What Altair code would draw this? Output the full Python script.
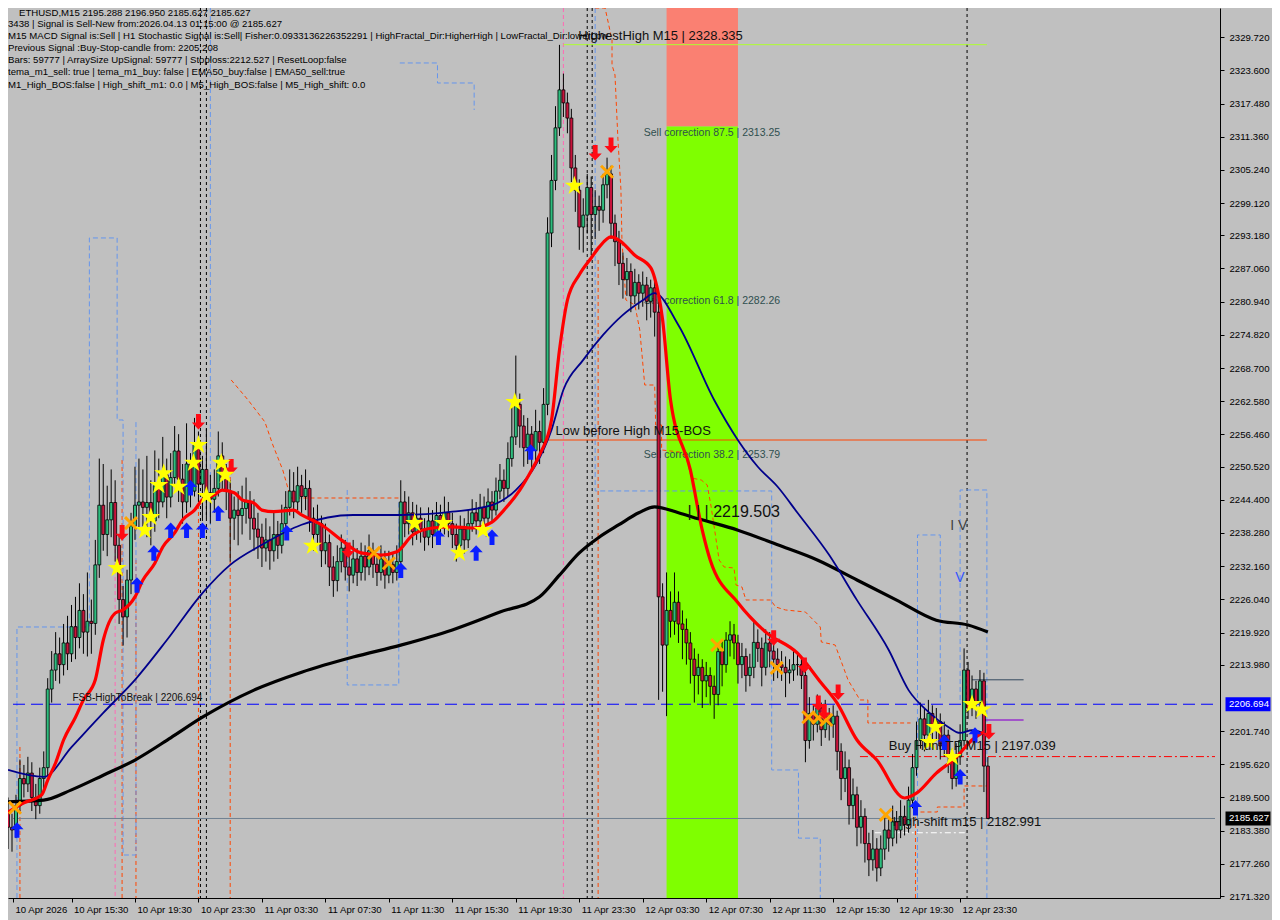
import altair as alt
import pandas as pd

FONT = "Liberation Sans, Arial, sans-serif"

# ---------------- candles (M15 bars, index 0..247) ----------------
first_open = 2187.0
closes = [
    2184.0, 2183.5, 2188.0, 2193.0, 2192.0, 2194.0, 2189.5, 2188.0, 2193.0, 2195.0,
    2209.5, 2213.0, 2216.0, 2214.0, 2218.0, 2216.0, 2221.0, 2219.0, 2224.0, 2220.0,
    2222.0, 2221.6, 2232.4, 2243.4, 2238.0, 2240.7, 2243.9, 2236.0, 2226.0, 2222.8,
    2229.6, 2239.6, 2243.4, 2244.0, 2243.0, 2243.9, 2240.5, 2247.0, 2244.0, 2249.0,
    2244.9, 2248.5, 2253.4, 2248.2, 2244.0, 2251.0, 2246.0, 2254.5, 2247.3, 2250.0,
    2245.7, 2244.5, 2246.5, 2252.5, 2248.5, 2246.0, 2241.0, 2242.5, 2241.5, 2242.8,
    2244.0, 2241.0, 2239.0, 2237.5, 2235.5, 2237.0, 2235.0, 2238.0, 2236.0, 2240.0,
    2243.0, 2246.0, 2244.0, 2247.0, 2245.0, 2246.5, 2241.0, 2238.0, 2240.0, 2235.0,
    2236.5, 2232.0, 2229.5, 2233.0, 2235.5, 2232.0, 2230.5, 2233.5, 2231.0, 2234.0,
    2232.0, 2235.0, 2232.5, 2231.0, 2233.5, 2230.5, 2232.5, 2231.0, 2233.0, 2244.0,
    2240.0, 2242.0, 2238.5, 2241.0, 2239.0, 2237.5, 2240.5, 2238.0, 2241.5, 2239.5,
    2242.0, 2240.0, 2238.0, 2236.0, 2239.0, 2237.0, 2240.0, 2242.0, 2240.5, 2243.0,
    2241.0, 2244.0, 2242.5, 2246.0, 2248.0, 2246.5, 2252.0, 2256.0, 2262.0, 2258.0,
    2254.0, 2256.5, 2253.5, 2257.0, 2255.0, 2262.0, 2293.6, 2303.3, 2313.0, 2320.0,
    2317.6, 2314.8, 2305.6, 2301.5, 2294.7, 2296.9, 2302.0, 2297.0, 2298.5, 2297.8,
    2302.5, 2304.5, 2295.4, 2292.0, 2288.0, 2285.0, 2286.5, 2282.0, 2284.5, 2282.5,
    2284.0, 2281.0, 2283.5, 2279.0, 2226.5, 2217.6, 2224.0, 2222.0, 2225.5, 2221.5,
    2220.5, 2218.0, 2215.0, 2212.0, 2213.5, 2211.0, 2212.0, 2210.0, 2208.5, 2216.4,
    2214.0, 2218.5, 2219.5, 2218.0, 2214.0, 2215.5, 2212.0, 2213.5, 2218.1, 2217.0,
    2213.5, 2218.0, 2216.5, 2215.0, 2214.0, 2213.5, 2212.5, 2213.0, 2214.0, 2214.0,
    2212.0, 2200.0, 2205.0, 2203.0, 2206.0, 2202.0, 2204.5, 2203.0, 2204.5, 2198.0,
    2193.0, 2195.0, 2188.0, 2190.0, 2184.0, 2186.0, 2181.0, 2178.0, 2180.0, 2176.5,
    2180.0, 2183.5, 2182.0, 2185.0, 2183.5, 2186.0, 2184.5, 2189.0, 2195.0, 2200.0,
    2204.0, 2201.0, 2205.0, 2202.5, 2203.5, 2199.0, 2201.0, 2197.0, 2193.0, 2197.0,
    2200.0, 2213.0, 2206.0, 2209.5, 2207.0, 2211.0, 2195.288, 2185.627,
]
highs = [
    2189.5, 2186.5, 2190.0, 2196.5, 2195.5, 2197.0, 2196.0, 2192.0, 2195.0, 2198.0,
    2211.5, 2216.5, 2220.0, 2219.0, 2221.5, 2223.0, 2225.0, 2226.5, 2229.0, 2227.0,
    2231.0, 2226.0, 2237.0, 2252.0, 2251.0, 2247.0, 2250.0, 2248.0, 2238.0, 2228.5,
    2231.5, 2242.0, 2250.5, 2252.0, 2250.0, 2252.5, 2248.0, 2253.5, 2252.0, 2256.0,
    2252.0, 2253.0, 2258.0, 2256.5, 2251.0, 2258.5, 2253.0, 2259.5, 2257.0, 2252.5,
    2257.5, 2249.0, 2250.0, 2257.0, 2255.0, 2251.0, 2248.0, 2245.0, 2246.0, 2247.0,
    2248.5, 2246.0, 2244.5, 2242.0, 2240.0, 2241.0, 2239.5, 2242.0, 2240.5, 2243.5,
    2246.0, 2250.0, 2249.5, 2250.5, 2249.0, 2250.0, 2248.0, 2243.0, 2243.5, 2241.5,
    2240.0, 2238.0, 2234.0, 2236.0, 2238.0, 2237.0, 2234.5, 2237.0, 2235.5, 2236.5,
    2236.0, 2238.0, 2236.5, 2234.5, 2236.0, 2235.0, 2235.0, 2234.5, 2236.0, 2248.0,
    2246.0, 2245.0, 2244.0, 2243.5, 2243.0, 2241.0, 2243.0, 2242.5, 2244.0, 2243.5,
    2245.0, 2244.0, 2242.0, 2240.0, 2241.5, 2241.0, 2242.5, 2244.5, 2244.0, 2245.5,
    2245.0, 2246.5, 2246.0, 2248.5, 2251.0, 2250.0, 2255.0, 2262.0, 2271.0, 2264.0,
    2260.0, 2259.5, 2258.0, 2261.0, 2259.0, 2265.0, 2296.5, 2308.0, 2317.0, 2328.3,
    2323.0, 2319.5, 2316.5, 2308.0, 2303.5, 2300.0, 2304.5, 2304.0, 2301.5, 2300.5,
    2304.5, 2307.5, 2306.0, 2297.0, 2294.0, 2290.0, 2289.0, 2288.0, 2287.0, 2286.0,
    2286.5, 2285.5, 2285.0, 2285.0, 2281.0, 2229.0, 2231.0, 2227.5, 2231.0, 2227.5,
    2224.0, 2222.5, 2220.0, 2217.0, 2216.0, 2215.0, 2214.5, 2213.5, 2212.0, 2218.0,
    2218.5, 2220.0, 2222.0, 2221.5, 2219.5, 2218.0, 2217.0, 2216.0, 2222.0, 2220.5,
    2219.0, 2220.5, 2220.0, 2218.0, 2217.0, 2216.5, 2215.5, 2215.0, 2217.0, 2216.0,
    2215.5, 2213.0, 2208.0, 2206.5, 2208.5, 2207.0, 2207.5, 2206.0, 2206.5, 2205.5,
    2199.5, 2198.0, 2196.5, 2193.0, 2191.5, 2189.0, 2187.5, 2183.0, 2183.5, 2182.0,
    2182.5, 2186.0, 2185.5, 2188.0, 2187.0, 2189.0, 2188.0, 2191.5, 2197.5, 2203.5,
    2207.0, 2206.0, 2207.5, 2206.5, 2206.0, 2205.0, 2203.5, 2202.0, 2198.5, 2199.5,
    2203.0, 2217.0, 2214.5, 2212.0, 2211.0, 2213.0, 2212.5, 2196.95,
]
lows = [
    2180.0, 2179.5, 2182.0, 2187.0, 2189.5, 2190.5, 2187.0, 2185.5, 2186.5, 2191.0,
    2193.5, 2207.0, 2211.0, 2210.5, 2212.0, 2213.0, 2214.5, 2215.0, 2217.0, 2216.0,
    2215.5, 2216.0, 2219.5, 2230.0, 2235.0, 2234.0, 2237.5, 2233.0, 2221.5, 2217.5,
    2219.0, 2227.0, 2237.0, 2239.0, 2239.5, 2237.5, 2236.0, 2238.5, 2241.0, 2243.0,
    2241.0, 2243.0, 2247.0, 2244.0, 2240.0, 2242.0, 2243.0, 2245.0, 2244.0, 2240.5,
    2241.0, 2240.0, 2242.0, 2245.0, 2246.0, 2242.5, 2233.0, 2237.0, 2236.0, 2238.0,
    2240.0, 2237.0, 2235.0, 2233.5, 2232.0, 2233.0, 2231.5, 2233.0, 2233.5, 2234.5,
    2238.0, 2241.5, 2241.0, 2242.5, 2242.0, 2242.5, 2238.5, 2235.0, 2236.0, 2232.0,
    2232.5, 2228.5, 2226.5, 2227.5, 2231.0, 2229.5, 2227.5, 2229.0, 2228.5, 2229.5,
    2229.5, 2230.5, 2230.0, 2228.5, 2229.5, 2228.0, 2229.0, 2229.0, 2229.5, 2231.5,
    2237.5, 2238.0, 2236.0, 2237.0, 2236.5, 2235.0, 2236.0, 2235.5, 2236.5, 2237.0,
    2238.0, 2237.5, 2235.5, 2233.0, 2234.0, 2234.5, 2235.5, 2238.5, 2238.0, 2239.0,
    2239.0, 2240.0, 2240.5, 2241.5, 2244.5, 2244.0, 2245.0, 2250.5, 2254.5, 2254.0,
    2250.5, 2251.0, 2250.0, 2251.5, 2251.0, 2253.0, 2260.0, 2291.0, 2301.5, 2311.5,
    2315.0, 2312.0, 2303.0, 2297.5, 2290.5, 2290.0, 2293.5, 2289.5, 2292.5, 2294.0,
    2295.5, 2300.0, 2292.5, 2287.5, 2284.0, 2281.5, 2282.0, 2279.0, 2280.5, 2279.5,
    2280.0, 2277.5, 2278.0, 2274.5, 2207.5, 2209.0, 2204.5, 2219.0, 2219.5, 2218.0,
    2215.0, 2214.0, 2210.5, 2207.0, 2208.5, 2206.0, 2208.0, 2206.5, 2204.0, 2206.5,
    2210.0, 2212.5, 2215.5, 2215.0, 2210.5, 2211.5, 2209.0, 2210.0, 2211.5, 2214.5,
    2210.0, 2212.0, 2213.5, 2211.0, 2211.5, 2211.0, 2208.0, 2210.5, 2211.0, 2212.0,
    2209.5, 2196.0, 2198.5, 2200.0, 2201.5, 2199.0, 2200.5, 2200.0, 2200.5, 2194.5,
    2189.0, 2190.5, 2184.5, 2185.5, 2180.5, 2181.0, 2177.5, 2175.0, 2176.0, 2174.0,
    2175.0, 2178.0, 2179.5, 2180.5, 2181.0, 2182.0, 2182.5, 2183.0, 2187.5, 2193.5,
    2198.5, 2198.0, 2199.0, 2199.5, 2200.0, 2196.5, 2197.0, 2194.0, 2191.0, 2191.5,
    2195.5, 2199.0, 2204.0, 2204.5, 2204.0, 2205.0, 2190.5, 2185.627,
]

# ---------------- axes ----------------
time_ticks = [1.25, 16, 32, 48, 64, 80, 96, 112, 128, 144, 160, 176, 192, 208, 224, 240]
time_labels = ["10 Apr 2026", "10 Apr 15:30", "10 Apr 19:30", "10 Apr 23:30", "11 Apr 03:30",
               "11 Apr 07:30", "11 Apr 11:30", "11 Apr 15:30", "11 Apr 19:30", "11 Apr 23:30",
               "12 Apr 03:30", "12 Apr 07:30", "12 Apr 11:30", "12 Apr 15:30", "12 Apr 19:30",
               "12 Apr 23:30"]
price_ticks = [2329.72, 2323.60, 2317.48, 2311.36, 2305.24, 2299.12, 2293.18, 2287.06,
               2280.94, 2274.82, 2268.70, 2262.58, 2256.46, 2250.52, 2244.40, 2238.28, 2232.16,
               2226.04, 2219.92, 2213.98, 2201.74, 2195.62, 2189.50, 2183.38, 2177.26,
               2171.32]
x_domain = [1.25, 304.25]
y_domain = [2170.96, 2335.10]

# ---------------- moving averages (bar index, price) ----------------
red_ma = [(0, 2186.8), (4, 2188.5), (8.5, 2190.0), (10, 2192.7), (12, 2195.9), (14, 2200.1),
          (17, 2204.3), (19, 2207.5), (22, 2211.2), (24, 2218.5), (27, 2223.5), (29, 2224.1),
          (32, 2226.5), (34, 2229.6), (37, 2232.7), (39, 2235.7), (42, 2238.3), (44, 2240.7),
          (47, 2242.5), (49, 2244.4), (52, 2245.3), (54, 2246.2), (57, 2245.7), (59, 2244.4),
          (62, 2243.8), (64, 2242.5), (67, 2242.2), (72, 2242.5), (74, 2241.6), (79, 2239.8),
          (84, 2237.0), (89, 2234.6), (94, 2234.2), (98, 2234.8), (102, 2237.9), (107, 2239.2),
          (112, 2239.4), (117, 2239.2), (122, 2240.3), (125, 2242.5), (129, 2246.2),
          (132, 2249.9), (134, 2252.7), (137, 2259.1), (139, 2272.0), (141, 2281.2),
          (144, 2285.9), (147, 2289.0), (149, 2291.0), (152, 2292.9), (154, 2292.3),
          (158, 2289.5), (162, 2287.2), (163, 2285.3), (165, 2277.6), (167, 2262.8),
          (172, 2249.9), (175, 2238.8), (177, 2233.3), (184, 2225.4), (191, 2220.0),
          (199, 2216.1), (205, 2210.6), (209, 2206.9), (214, 2200.1), (219, 2196.4),
          (226, 2189.4), (229, 2190.3), (234, 2194.0), (239, 2196.9), (243, 2200.1),
          (246, 2201.6)]
navy_ma = [(0, 2194.6), (9, 2193.3), (16, 2198.8), (24, 2205.1), (32, 2211.2), (40, 2218.5),
           (49, 2227.2), (56, 2232.4), (64, 2236.1), (74, 2239.8), (87, 2241.6), (99, 2241.6),
           (112, 2242.2), (122, 2243.4), (128, 2246.2), (133, 2250.8), (137, 2257.3),
           (140, 2264.7), (145, 2270.2), (150, 2274.8), (155, 2278.5), (160, 2281.2),
           (163, 2282.5), (169, 2276.6), (178, 2262.8), (184, 2255.4), (189, 2250.5),
           (194, 2246.8), (199, 2242.0), (207, 2234.2), (214, 2225.9), (222, 2216.7),
           (227, 2209.3), (232, 2205.3), (237, 2202.5), (240, 2201.4), (243, 2201.9),
           (247, 2201.0)]
black_ma = [(0, 2188.7), (9, 2189.0), (16, 2190.9), (24, 2193.6), (32, 2196.4), (41, 2200.5),
            (49, 2204.3), (62, 2209.3), (74, 2212.6), (87, 2215.4), (99, 2217.6), (112, 2220.4),
            (124, 2223.7), (134, 2226.5), (139, 2230.5), (144, 2234.6), (149, 2237.5),
            (154, 2239.8), (159, 2242.0), (163, 2243.1), (169, 2242.0), (174, 2240.9),
            (184, 2238.8), (194, 2236.1), (204, 2233.3), (214, 2229.6), (224, 2225.9),
            (234, 2222.2), (242, 2221.3), (247, 2220.0)]

# ---------------- channel / band step lines ----------------
blue_steps = {
    "b1": [(2.25, 2170.96), (2.25, 2220.94), (20.5, 2220.94), (20.5, 2292.69), (27.5, 2292.69),
           (27.5, 2259.12), (29, 2259.12), (29, 2178.89), (32.25, 2178.89), (32.25, 2259.12)],
    "b2": [(51, 2335.1), (51, 2207.48)],
    "b3": [(98.75, 2324.96), (108.25, 2324.96), (108.25, 2321.27), (117.5, 2321.27),
           (117.5, 2316.29)],
    "b4": [(148, 2335.1), (148, 2246.03), (192.5, 2246.03), (192.5, 2194.57), (199.25, 2194.57),
           (199.25, 2182.0), (204.75, 2182.0), (204.75, 2170.96)],
    "b5": [(229.25, 2170.96), (229.25, 2237.91), (235, 2237.91), (235, 2207.48)],
    "b6": [(240, 2207.48), (240, 2246.21), (246.75, 2246.21), (246.75, 2170.96)],
    "b8": [(85.5, 2246.21), (85.5, 2210.25), (98.5, 2210.25), (98.5, 2244.4)],
}
orange_steps = {
    "o1": [(56.25, 2266.5), (60.5, 2262.81), (64.75, 2258.75), (66.75, 2254.51), (69.25, 2249.9),
           (71.25, 2244.73), (85.5, 2244.73), (98.75, 2244.73)],
    "o2": [(148, 2335.1), (150.5, 2335.1), (152.25, 2329.2), (152.25, 2324.6), (153, 2322.75),
           (153.75, 2310.76), (154.5, 2301.54), (154.75, 2292.32), (155.75, 2281.25),
           (158, 2280.33), (159.25, 2275.72), (160.5, 2265.57), (163, 2265.57), (163.25, 2258.2),
           (164.75, 2258.2), (164.75, 2253.59), (169.25, 2253.22), (171, 2252.11),
           (172.25, 2248.42), (174.75, 2248.05), (176.25, 2247.13), (177.25, 2243.07),
           (179.25, 2233.3), (180.5, 2232.01), (183, 2231.82), (183.5, 2228.69), (185, 2228.32),
           (186, 2225.92), (192.25, 2225.92), (193.5, 2224.63), (196, 2224.08), (201, 2223.71),
           (203, 2222.23), (204.75, 2220.94), (205, 2218.18), (208.5, 2217.62),
           (211.75, 2211.17), (214.75, 2207.48), (216.75, 2207.48), (216.75, 2203.24),
           (227.5, 2203.24)],
    "o3": [(228.75, 2170.96), (228.75, 2186.82), (234.25, 2186.82), (234.25, 2187.74),
           (241, 2187.74), (241, 2191.62), (246.75, 2191.62)],
}
orange_drops = [(3, 2198.81), (28.75, 2251.74), (32.25, 2233.3), (48, 2249.9), (56, 2249.9),
                (148.75, 2288.63)]
pink_drops = [(27, 2244.37), (140, 2335.1)]
black_vlines = [48.5, 50, 146, 147.25, 241.75]

# ---------------- horizontal levels (from bar, to bar, price) ----------------
lvl_fsb = [(1.25, 304.25, 2206.694)]
lvl_tp = [(214.75, 304.25, 2197.039)]
lvl_bid = [(1.25, 304.25, 2185.627)]
lvl_bos = [(134.25, 246.75, 2255.43)]
lvl_hh = [(140, 246.75, 2328.335)]
lvl_shift = [(218.5, 241.75, 2182.991)]
lvl_slate = [(243, 256, 2211.2)]
lvl_purple = [(246, 256, 2203.8)]

# correction zone (from bar, to bar, low price, high price)
zone_sell = [(166, 184, 2313.25, 2340.0)]
zone_corr = [(166, 184, 2160.0, 2313.25)]

# ---------------- signal markers (bar index, price) ----------------
stars = [(27.5, 2231.8), (34.5, 2238.8), (36, 2241.2), (38, 2247.1), (39.25, 2249.3),
         (43, 2246.8), (46.75, 2251.2), (48, 2254.5), (50, 2245.1), (53.75, 2251.2),
         (54.75, 2249.0), (76.75, 2235.9), (102.5, 2240.1), (109.75, 2240.1), (113.75, 2234.6),
         (119.75, 2238.8), (127.75, 2262.4), (142.75, 2302.3), (233.75, 2202.5),
         (232.25, 2199.7), (238, 2196.97), (243, 2206.7), (245.5, 2205.7)]
up_arrows = [(2.25, 2183.5), (32.5, 2228.7), (36.75, 2234.6), (41, 2238.8), (45, 2238.8),
             (46, 2246.6), (49, 2238.8), (53, 2241.9), (70.25, 2238.3), (99, 2231.4),
             (108.5, 2237.5), (118, 2234.6), (122, 2237.5), (131.75, 2253.2), (228.75, 2187.6),
             (236, 2199.7), (240, 2193.3), (243.75, 2201.0)]
down_arrows = [(28.75, 2238.3), (48, 2258.8), (56.25, 2250.5), (85.75, 2235.1), (148, 2308.4),
               (152, 2309.8), (193, 2218.9), (200.75, 2213.9), (204.25, 2206.9), (205.75, 2205.3),
               (209.25, 2208.9), (247.25, 2201.6)]
crosses = [(1.75, 2187.6), (31, 2240.1), (92.25, 2234.6), (96, 2232.7), (151, 2304.9),
           (178.75, 2217.6), (193.75, 2213.4), (201.75, 2204.3), (204.25, 2204.2),
           (206.25, 2203.8), (221.25, 2186.3)]

# ---------------- texts ----------------
info_title = "ETHUSD,M15  2195.288 2196.950 2185.627 2185.627"
info_lines = [
    "3438 | Signal is Sell-New from:2026.04.13 01:15:00 @ 2185.627",
    "M15 MACD Signal is:Sell | H1 Stochastic Signal is:Sell| Fisher:0.0933136226352291 | HighFractal_Dir:HigherHigh | LowFractal_Dir:lowerLow",
    "Previous Signal :Buy-Stop-candle from: 2205.208",
    "Bars: 59777 | ArraySize UpSignal: 59777 | Stoploss:2212.527 | ResetLoop:false",
    "tema_m1_sell: true | tema_m1_buy: false | EMA50_buy:false | EMA50_sell:true",
    "M1_High_BOS:false | High_shift_m1: 0.0 | M5_High_BOS:false | M5_High_shift: 0.0",
]
corr_texts = [(160.25, 2312.05, "Sell correction 87.5 | 2313.25"),
              (160.25, 2281.07, "Sell correction 61.8 | 2282.26"),
              (160.25, 2252.66, "Sell correction 38.2 | 2253.79")]
big_texts = [(143.75, 2329.94, "HighestHigh   M15 | 2328.335"),
             (138.0, 2257.1, "Low before High   M15-BOS"),
             (222.0, 2198.99, "Buy Hunt TP M15 | 2197.039"),
             (223.0, 2184.98, "High-shift m15 | 2182.991")]
mid_texts = [(171.25, 2242.15, "| | | 2219.503")]
small_texts = [(16.25, 2207.85, "FSB-HighToBreak | 2206.694")]
fractal_texts = [(237.5, 2239.57, "I V", "#404040"), (238.75, 2229.98, "V", "#3355FF")]
price_boxes = [(2206.694, "#0000FF", "2206.694"), (2185.627, "#000000", "2185.627")]

# ======================================================================
opens = [first_open] + closes[:-1]
bars = pd.DataFrame({"i": list(range(len(closes))), "o": opens, "h": highs, "l": lows, "c": closes})
bars["lo"] = bars[["o", "c"]].min(axis=1)
bars["hi"] = bars[["o", "c"]].max(axis=1)
bars["dir"] = ["up" if c >= o else "down" for o, c in zip(opens, closes)]

js_labels = "[" + ",".join("'" + s + "'" for s in time_labels) + "]"
xs = alt.Scale(domain=x_domain, nice=False, zero=False)
ys = alt.Scale(domain=y_domain, nice=False, zero=False)
xax = alt.Axis(values=time_ticks, labelExpr=js_labels + "[round(datum.value/16)]", title=None,
               grid=False, labelAlign="left", labelFont=FONT, labelFontSize=9.6, labelColor="#000000",
               tickColor="#000000", domainColor="#000000", tickSize=4, labelPadding=2,
               labelFlush=False, labelOverlap=False, labelBound=False, labelBaseline="top",
               labelOffset=2)
yax = alt.Axis(orient="right", values=price_ticks, format=".3f", title=None, grid=False,
               labelFont=FONT, labelFontSize=9.6, labelColor="#000000", tickColor="#000000",
               domainColor="#000000", tickSize=4, labelPadding=5, labelOverlap=False,
               labelFlush=False, labelBound=False)


def X(f):
    return alt.X(f + ":Q", scale=xs, axis=xax)


def Y(f):
    return alt.Y(f + ":Q", scale=ys, axis=yax)


def pts_df(pts):
    return pd.DataFrame([{"i": a, "p": b} for a, b in pts])


def paths_df(paths):
    return pd.DataFrame([{"path": n, "k": k, "i": a, "p": b}
                         for n, pts in paths.items() for k, (a, b) in enumerate(pts)])


def lvl_df(rows):
    return pd.DataFrame([{"i0": a, "i1": b, "p": c} for a, b, c in rows])


layers = []

# zones
for rows, col in [(zone_sell, "#FA8072"), (zone_corr, "#7FFF00")]:
    df = pd.DataFrame([{"i0": a, "i1": b, "p0": c, "p1": d} for a, b, c, d in rows])
    layers.append(alt.Chart(df).mark_rect(color=col, clip=True).encode(
        x=X("i0"), x2="i1", y=Y("p0"), y2="p1"))

# correction texts (behind candles)
layers.append(alt.Chart(pd.DataFrame(corr_texts, columns=["i", "p", "t"])).mark_text(
    align="left", baseline="middle", font=FONT, fontSize=10.5, color="#2F4F4F").encode(
    x=X("i"), y=Y("p"), text="t:N"))

# vertical lines
layers.append(alt.Chart(pd.DataFrame({"i": black_vlines})).mark_rule(
    color="#000000", strokeDash=[3, 3], strokeWidth=1, clip=True).encode(x=X("i")))
pdf = pd.DataFrame([{"i": a, "p": b, "b": y_domain[0]} for a, b in pink_drops])
layers.append(alt.Chart(pdf).mark_rule(color="#FF69B4", strokeDash=[4, 3], strokeWidth=1,
                                       clip=True).encode(x=X("i"), y=Y("p"), y2="b"))
odf = pd.DataFrame([{"i": a, "p": b, "b": y_domain[0]} for a, b in orange_drops])
layers.append(alt.Chart(odf).mark_rule(color="#FF4500", strokeDash=[4, 3], strokeWidth=1,
                                       clip=True).encode(x=X("i"), y=Y("p"), y2="b"))

# step lines
layers.append(alt.Chart(paths_df(blue_steps)).mark_line(
    color="#6495ED", strokeDash=[5, 3], strokeWidth=1, clip=True).encode(
    x=X("i"), y=Y("p"), detail="path:N", order="k:Q"))
layers.append(alt.Chart(paths_df(orange_steps)).mark_line(
    color="#FF4500", strokeDash=[4, 3], strokeWidth=1, clip=True).encode(
    x=X("i"), y=Y("p"), detail="path:N", order="k:Q"))

# horizontal levels
for rows, col, dash, sw in [(lvl_bid, "#708090", None, 1), (lvl_fsb, "#0000FF", [12, 6], 1),
                            (lvl_tp, "#FF0000", [8, 3, 2, 3], 1), (lvl_bos, "#FF4500", None, 1.2),
                            (lvl_hh, "#ADFF2F", None, 1), (lvl_shift, "#FFFFFF", [6, 3, 2, 3], 1.2),
                            (lvl_slate, "#34495E", None, 1), (lvl_purple, "#9932CC", None, 1.5)]:
    kw = dict(color=col, strokeWidth=sw, clip=True)
    if dash:
        kw["strokeDash"] = dash
    layers.append(alt.Chart(lvl_df(rows)).mark_rule(**kw).encode(x=X("i0"), x2="i1", y=Y("p")))

# candles
layers.append(alt.Chart(bars).mark_rule(color="#000000", strokeWidth=1, clip=True).encode(
    x=X("i"), y=Y("l"), y2="h"))
layers.append(alt.Chart(bars).mark_bar(size=3, stroke="#000000", strokeWidth=0.8, clip=True).encode(
    x=X("i"), y=Y("lo"), y2="hi",
    fill=alt.Fill("dir:N", scale=alt.Scale(domain=["up", "down"], range=["#2EBD7E", "#C8143C"]),
                  legend=None)))

# moving averages
for pts, col, sw in [(black_ma, "#000000", 3.2), (navy_ma, "#00008B", 1.8), (red_ma, "#FF0000", 3.2)]:
    layers.append(alt.Chart(pts_df(pts)).mark_line(color=col, strokeWidth=sw, clip=True,
                                                   interpolate="monotone").encode(
        x=X("i"), y=Y("p")))

# markers
STAR = "M0,-1L0.2245,-0.309L0.951,-0.309L0.363,0.118L0.588,0.809L0,0.382L-0.588,0.809L-0.363,0.118L-0.951,-0.309L-0.2245,-0.309Z"
UP = "M0,-1L0.85,-0.1L0.32,-0.1L0.32,1L-0.32,1L-0.32,-0.1L-0.85,-0.1Z"
DOWN = "M0,1L0.85,0.1L0.32,0.1L0.32,-1L-0.32,-1L-0.32,0.1L-0.85,0.1Z"
XMARK = "M-1,-0.7L-0.7,-1L0,-0.3L0.7,-1L1,-0.7L0.3,0L1,0.7L0.7,1L0,0.3L-0.7,1L-1,0.7L-0.3,0Z"
for pts, shape, col, size in [(crosses, XMARK, "#FFA500", 200), (up_arrows, UP, "#0A1EFF", 240),
                              (down_arrows, DOWN, "#FF0A14", 240), (stars, STAR, "#FFFF00", 400)]:
    layers.append(alt.Chart(pts_df(pts)).mark_point(shape=shape, filled=True, size=size, color=col,
                                                    opacity=1, strokeWidth=0, clip=True).encode(
        x=X("i"), y=Y("p")))

# annotation texts
layers.append(alt.Chart(pd.DataFrame(big_texts, columns=["i", "p", "t"])).mark_text(
    align="left", baseline="middle", font=FONT, fontSize=13, color="#111111").encode(
    x=X("i"), y=Y("p"), text="t:N"))
layers.append(alt.Chart(pd.DataFrame(mid_texts, columns=["i", "p", "t"])).mark_text(
    align="left", baseline="middle", font=FONT, fontSize=16, color="#111111").encode(
    x=X("i"), y=Y("p"), text="t:N"))
layers.append(alt.Chart(pd.DataFrame(small_texts, columns=["i", "p", "t"])).mark_text(
    align="left", baseline="middle", font=FONT, fontSize=10, color="#111111").encode(
    x=X("i"), y=Y("p"), text="t:N"))
layers.append(alt.Chart(pd.DataFrame(fractal_texts, columns=["i", "p", "t", "c"])).mark_text(
    align="left", baseline="middle", font=FONT, fontSize=14).encode(
    x=X("i"), y=Y("p"), text="t:N", color=alt.Color("c:N", scale=None)))

# info block
one = pd.DataFrame({"a": [0]})
layers.append(alt.Chart(one).mark_text(
    align="left", baseline="top", font=FONT, fontSize=9.6, color="#000000").encode(
    x=alt.value(11), y=alt.value(0), text=alt.value(info_title)))
layers.append(alt.Chart(one).mark_text(
    align="left", baseline="top", font=FONT, fontSize=9.6, lineHeight=12.2, color="#000000").encode(
    x=alt.value(0), y=alt.value(10.5), text=alt.value(info_lines)))

# price boxes on the axis
BOX = "M-1,-0.31L1,-0.31L1,0.31L-1,0.31Z"
bdf = pd.DataFrame(price_boxes, columns=["p", "bg", "t"])
layers.append(alt.Chart(bdf).mark_point(shape=BOX, filled=True, size=2025, opacity=1,
                                        strokeWidth=0).encode(
    x=alt.value(1240), y=Y("p"), color=alt.Color("bg:N", scale=None)))
layers.append(alt.Chart(bdf).mark_text(align="left", baseline="middle", font=FONT, fontSize=9.6,
                                       color="#FFFFFF").encode(
    x=alt.value(1221), y=Y("p"), text="t:N"))

chart = alt.layer(*layers).properties(
    width=1212, height=890, background="#C0C0C0",
    padding={"left": 0, "top": 0, "right": 52, "bottom": 22},
    autosize=alt.AutoSizeParams(type="none"),
).configure_view(stroke=None)

chart.save("out.html", embed_options={"renderer": "svg", "actions": False})
